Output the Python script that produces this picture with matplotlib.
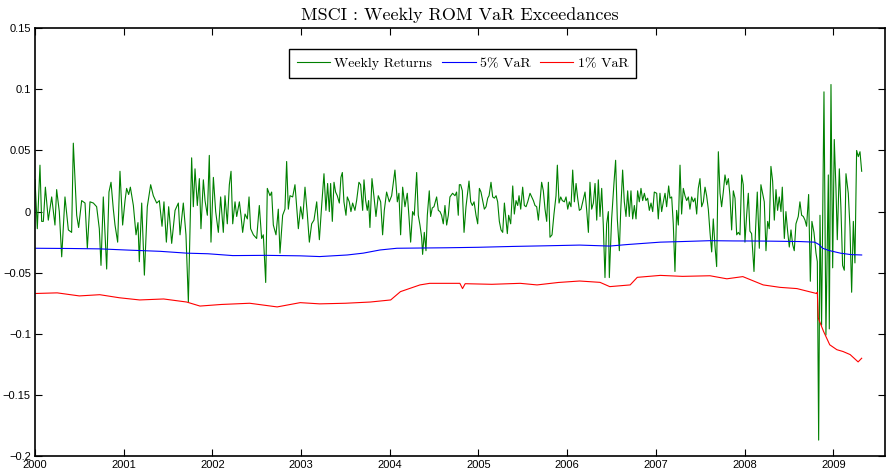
import numpy as np
import matplotlib
matplotlib.use("Agg")
import matplotlib.pyplot as plt

# weekly returns, traced as (decimal year, return)
ret_year = [
    2000.000, 2000.026, 2000.056, 2000.075, 2000.094, 2000.117, 2000.150, 2000.188, 2000.225, 2000.244,
    2000.274, 2000.301, 2000.338, 2000.376, 2000.413, 2000.432, 2000.470, 2000.492, 2000.526, 2000.564,
    2000.590, 2000.620, 2000.658, 2000.695, 2000.725, 2000.744, 2000.770, 2000.808, 2000.834, 2000.857,
    2000.883, 2000.902, 2000.932, 2000.958, 2000.988, 2001.015, 2001.033, 2001.056, 2001.075, 2001.109,
    2001.139, 2001.161, 2001.176, 2001.203, 2001.233, 2001.266, 2001.304, 2001.334, 2001.372, 2001.402,
    2001.432, 2001.454, 2001.481, 2001.507, 2001.541, 2001.579, 2001.616, 2001.635,
    2001.672, 2001.702, 2001.729, 2001.766, 2001.785, 2001.804, 2001.830, 2001.853, 2001.871, 2001.898,
    2001.917, 2001.943, 2001.965, 2001.984, 2002.011, 2002.037, 2002.067, 2002.093, 2002.123, 2002.142,
    2002.168, 2002.191, 2002.210, 2002.229, 2002.255, 2002.274, 2002.304, 2002.322, 2002.341, 2002.368,
    2002.394, 2002.413, 2002.431, 2002.462, 2002.499, 2002.529, 2002.555, 2002.574, 2002.601, 2002.619,
    2002.649, 2002.668, 2002.687, 2002.717, 2002.743, 2002.762, 2002.792, 2002.818, 2002.837, 2002.856,
    2002.875, 2002.905, 2002.931, 2002.969, 2002.995, 2003.018, 2003.044, 2003.070, 2003.093, 2003.119,
    2003.145, 2003.176, 2003.206,
    2003.232, 2003.258, 2003.280, 2003.299, 2003.318, 2003.333, 2003.352, 2003.371, 2003.389, 2003.408,
    2003.431, 2003.449, 2003.465, 2003.483, 2003.506, 2003.521, 2003.543, 2003.562, 2003.581, 2003.607,
    2003.626, 2003.652, 2003.671, 2003.694, 2003.709, 2003.728, 2003.746, 2003.761, 2003.776, 2003.799,
    2003.822, 2003.844, 2003.870, 2003.897, 2003.919, 2003.938, 2003.964, 2003.994, 2004.021, 2004.058,
    2004.085, 2004.103, 2004.122, 2004.145, 2004.171, 2004.197, 2004.216, 2004.235, 2004.257, 2004.276,
    2004.303, 2004.321, 2004.340, 2004.359, 2004.370, 2004.389, 2004.408, 2004.423, 2004.445, 2004.460,
    2004.479, 2004.498, 2004.528, 2004.547, 2004.566, 2004.584, 2004.603, 2004.622, 2004.641, 2004.660,
    2004.678, 2004.708, 2004.735, 2004.753, 2004.772, 2004.784,
    2004.799, 2004.818, 2004.837, 2004.859, 2004.874, 2004.893, 2004.912, 2004.931, 2004.950, 2004.972,
    2004.991, 2005.010, 2005.028, 2005.047, 2005.066, 2005.085, 2005.104, 2005.119, 2005.141, 2005.160,
    2005.179, 2005.198, 2005.216, 2005.235, 2005.254, 2005.273, 2005.292, 2005.310, 2005.325, 2005.340,
    2005.363, 2005.386, 2005.404, 2005.423, 2005.442, 2005.457, 2005.476, 2005.498, 2005.517, 2005.536,
    2005.555, 2005.581, 2005.600, 2005.619, 2005.637, 2005.656, 2005.675, 2005.694, 2005.712, 2005.731,
    2005.750, 2005.769, 2005.788, 2005.806, 2005.829, 2005.851, 2005.874, 2005.889, 2005.908, 2005.927,
    2005.945, 2005.968, 2005.987, 2006.006, 2006.024, 2006.043, 2006.062, 2006.081, 2006.100, 2006.118,
    2006.137, 2006.156, 2006.175, 2006.201, 2006.220, 2006.239, 2006.257, 2006.276, 2006.295, 2006.314,
    2006.333, 2006.351, 2006.370,
    2006.389, 2006.407, 2006.426, 2006.445, 2006.464, 2006.475, 2006.501, 2006.528, 2006.546, 2006.565,
    2006.588, 2006.603, 2006.625, 2006.644, 2006.663, 2006.682, 2006.700, 2006.719, 2006.738, 2006.757,
    2006.776, 2006.794, 2006.813, 2006.832, 2006.851, 2006.870, 2006.888, 2006.907, 2006.926, 2006.945,
    2006.964, 2006.982, 2007.009, 2007.027, 2007.046, 2007.065, 2007.084, 2007.103, 2007.121, 2007.144,
    2007.159, 2007.178, 2007.196, 2007.215, 2007.234, 2007.253, 2007.272, 2007.290, 2007.309, 2007.328,
    2007.347, 2007.366, 2007.384, 2007.403, 2007.422, 2007.441, 2007.460, 2007.478, 2007.497, 2007.516,
    2007.535, 2007.554, 2007.572, 2007.591, 2007.610, 2007.629, 2007.647, 2007.666, 2007.685, 2007.704,
    2007.723, 2007.741, 2007.760, 2007.779, 2007.798, 2007.817, 2007.835, 2007.854, 2007.873, 2007.892,
    2007.911, 2007.929,
    2007.948, 2007.967, 2007.985, 2008.004, 2008.023, 2008.042, 2008.060, 2008.079, 2008.106, 2008.124,
    2008.143, 2008.166, 2008.184, 2008.203, 2008.222, 2008.241, 2008.260, 2008.278, 2008.297, 2008.316,
    2008.335, 2008.354, 2008.372, 2008.391, 2008.410, 2008.425, 2008.448, 2008.466, 2008.485, 2008.504,
    2008.523, 2008.542, 2008.560, 2008.579, 2008.605, 2008.624, 2008.643, 2008.662, 2008.681, 2008.699,
    2008.722, 2008.741, 2008.759, 2008.782, 2008.805, 2008.820, 2008.835, 2008.850, 2008.868, 2008.895,
    2008.917, 2008.944, 2008.955, 2008.974, 2008.993, 2009.011, 2009.030, 2009.045, 2009.068, 2009.086,
    2009.105, 2009.124, 2009.143, 2009.169, 2009.188, 2009.207, 2009.226, 2009.244, 2009.263, 2009.282,
    2009.301, 2009.320,
]
ret_value = [
    0.026, -0.014, 0.038, -0.008, -0.008, 0.020, -0.007, 0.012, -0.011, 0.018,
    0.000, -0.037, 0.012, -0.015, -0.017, 0.056, -0.003, -0.013, 0.009, 0.007,
    -0.030, 0.008, 0.007, 0.004, -0.014, -0.044, 0.012, -0.047, 0.016, 0.024,
    0.002, -0.011, -0.025, 0.033, -0.011, 0.009, 0.019, 0.014, 0.020, 0.005,
    -0.019, -0.009, -0.041, 0.007, -0.052, 0.004, 0.022, 0.013, 0.007, 0.009,
    -0.012, 0.008, -0.025, 0.004, -0.026, 0.001, 0.007, -0.019,
    0.007, -0.019, -0.074, 0.044, 0.004, 0.035, 0.005, 0.027, -0.014, 0.026,
    0.009, -0.003, 0.046, -0.025, 0.028, 0.000, -0.017, 0.012, -0.017, 0.013,
    -0.010, 0.022, 0.033, -0.010, 0.008, -0.004, 0.008, -0.003, -0.017, -0.002,
    -0.006, 0.012, -0.014, -0.019, -0.022, 0.005, -0.022, -0.019, -0.058, 0.019,
    0.013, 0.016, -0.011, -0.019, 0.002, -0.034, -0.003, 0.002, 0.041, 0.002,
    0.013, 0.012, 0.022, -0.014, 0.004, -0.006, 0.020, -0.002, -0.025, -0.010,
    -0.007, 0.008, -0.023,
    0.005, 0.031, 0.001, 0.023, 0.000, 0.023, -0.008, 0.024, 0.016, 0.013,
    0.007, 0.028, 0.032, 0.008, -0.003, 0.012, 0.008, 0.000, 0.007, 0.001,
    0.009, 0.024, 0.022, 0.001, 0.026, 0.009, 0.001, 0.009, -0.013, 0.027,
    0.012, -0.004, 0.013, 0.008, -0.019, 0.001, 0.016, 0.008, 0.013, 0.034,
    0.008, 0.015, -0.019, 0.020, 0.004, 0.015, -0.004, -0.025, 0.000, -0.003,
    0.032, -0.003, -0.011, -0.021, -0.035, -0.017, -0.032, -0.003, 0.017, -0.004,
    0.003, 0.004, 0.012, 0.001, 0.000, -0.003, -0.010, 0.005, -0.011, -0.003,
    0.012, 0.015, 0.013, 0.016, -0.003, 0.022,
    0.022, 0.017, -0.017, 0.004, 0.013, 0.025, 0.008, 0.005, 0.008, -0.003,
    -0.010, 0.019, 0.016, 0.009, 0.002, 0.004, 0.011, 0.013, 0.024, 0.012,
    0.011, 0.013, 0.008, -0.008, -0.015, -0.017, 0.007, -0.007, -0.018, -0.003,
    -0.010, 0.021, -0.002, 0.009, 0.005, 0.013, 0.002, 0.020, 0.005, 0.004,
    0.008, 0.015, 0.012, 0.009, 0.005, 0.004, -0.007, 0.009, 0.024, 0.017,
    0.002, -0.008, 0.024, -0.021, -0.019, -0.002, 0.013, 0.038, 0.007, 0.012,
    0.009, 0.008, 0.012, 0.002, 0.008, 0.004, 0.034, 0.008, 0.023, 0.011,
    0.001, 0.002, 0.008, 0.016, 0.001, -0.017, 0.024, 0.002, 0.007, 0.023,
    -0.007, 0.026, -0.004,
    0.019, -0.011, -0.054, -0.010, 0.000, -0.054, -0.006, 0.024, 0.042, -0.006,
    -0.032, 0.000, 0.034, 0.008, -0.004, 0.017, -0.004, 0.017, -0.006, 0.005,
    -0.006, 0.017, 0.008, 0.019, 0.009, 0.015, 0.009, 0.011, 0.001, 0.007,
    0.000, 0.016, 0.015, -0.006, 0.015, 0.000, 0.008, 0.015, 0.004, 0.021,
    0.011, 0.012, -0.010, -0.049, 0.001, -0.011, 0.038, -0.002, 0.019, 0.013,
    0.009, 0.012, 0.002, 0.012, 0.008, 0.011, -0.002, 0.019, 0.027, 0.004,
    0.008, 0.020, 0.013, 0.002, -0.017, -0.033, -0.006, -0.028, -0.045, 0.049,
    0.015, 0.004, 0.016, 0.030, 0.022, 0.027, 0.013, -0.015, 0.017, 0.011,
    -0.019, -0.017,
    -0.019, 0.030, 0.022, -0.025, -0.003, 0.015, -0.016, -0.018, -0.049, -0.014,
    0.016, -0.030, 0.022, 0.015, 0.008, -0.032, -0.008, -0.014, 0.037, 0.025,
    -0.007, 0.018, 0.001, 0.012, 0.000, 0.020, -0.022, 0.000, -0.016, -0.029,
    -0.015, -0.027, -0.032, -0.010, -0.004, 0.008, -0.003, -0.004, -0.007, -0.012,
    0.014, -0.057, -0.008, -0.017, -0.034, -0.041, -0.187, -0.003, -0.093, 0.098,
    -0.101, 0.030, -0.096, 0.104, -0.046, 0.059, 0.019, -0.023, 0.035, 0.003,
    -0.044, -0.048, 0.031, 0.015, -0.013, -0.066, -0.008, -0.042, 0.050, 0.045,
    0.049, 0.033,
]

# 5% VaR
var5_year = [2000.01, 2000.40, 2000.73, 2001.05, 2001.41, 2001.71, 2001.95, 2002.23, 2002.60, 2002.99,
             2003.21, 2003.52, 2003.70, 2003.89, 2004.08, 2004.35, 2004.64, 2005.00, 2005.39, 2005.75,
             2006.14, 2006.48, 2006.67, 2007.05, 2007.30, 2007.61, 2007.87, 2008.20, 2008.62, 2008.79,
             2008.84, 2008.88, 2008.95, 2009.08, 2009.20, 2009.32]
var5_value = [-0.0300, -0.0302, -0.0305, -0.0315, -0.0325, -0.0340, -0.0345, -0.0360, -0.0358, -0.0362,
              -0.0368, -0.0355, -0.0340, -0.0314, -0.0300, -0.0298, -0.0296, -0.0292, -0.0285, -0.0280,
              -0.0274, -0.0282, -0.0270, -0.0250, -0.0245, -0.0238, -0.0240, -0.0241, -0.0245, -0.0250,
              -0.0270, -0.0300, -0.0318, -0.0340, -0.0352, -0.0355]

# 1% VaR
var1_year = [2000.01, 2000.25, 2000.50, 2000.73, 2000.95, 2001.18, 2001.45, 2001.71, 2001.86, 2002.10,
             2002.42, 2002.73, 2002.99, 2003.21, 2003.50, 2003.78, 2004.01, 2004.12, 2004.34, 2004.45,
             2004.79, 2004.82, 2004.85, 2005.15, 2005.47, 2005.66, 2005.90, 2006.14, 2006.37, 2006.48,
             2006.71, 2006.79, 2007.05, 2007.30, 2007.61, 2007.80, 2007.98, 2008.21, 2008.40, 2008.59,
             2008.81, 2008.82, 2008.83, 2008.89, 2008.96, 2009.04, 2009.11, 2009.19, 2009.28, 2009.32]
var1_value = [-0.0670, -0.0665, -0.0690, -0.0680, -0.0705, -0.0723, -0.0715, -0.0740, -0.0773, -0.0760,
              -0.0750, -0.0780, -0.0745, -0.0755, -0.0750, -0.0740, -0.0723, -0.0655, -0.0600, -0.0587,
              -0.0587, -0.0630, -0.0590, -0.0595, -0.0587, -0.0600, -0.0580, -0.0568, -0.0579, -0.0614,
              -0.0600, -0.0538, -0.0522, -0.0530, -0.0525, -0.0550, -0.0532, -0.0600, -0.0620, -0.0630,
              -0.0670, -0.0660, -0.0870, -0.0980, -0.1090, -0.1130, -0.1145, -0.1170, -0.1230, -0.1200]

year_ticks = list(range(2000, 2010))
y_ticks = [-0.2, -0.15, -0.1, -0.05, 0, 0.05, 0.1, 0.15]
y_labels = ["\u22120.2", "\u22120.15", "\u22120.1", "\u22120.05", "0", "0.05", "0.1", "0.15"]

serif = ["cmr10", "DejaVu Serif"]
sans = ["Liberation Sans", "DejaVu Sans"]

fig = plt.figure(figsize=(8.87, 4.70), dpi=100)
ax = fig.add_axes([35 / 887, 14 / 470, 850 / 887, 427.7 / 470])

ax.plot(ret_year, ret_value, color=(0, 0.5, 0), lw=0.8, label="Weekly Returns")
ax.plot(var5_year, var5_value, color="b", lw=0.8, label="5% VaR")
ax.plot(var1_year, var1_value, color="r", lw=0.8, label="1% VaR")

ax.set_xlim(2000, 2009.583)
ax.set_ylim(-0.2, 0.15)
ax.set_xticks(year_ticks)
ax.set_xticklabels([str(y) for y in year_ticks], family=sans, fontsize=8)
ax.set_yticks(y_ticks)
ax.set_yticklabels(y_labels, family=sans, fontsize=8)
ax.tick_params(direction="in", top=True, right=True, length=5, width=0.8, pad=3)
for s in ax.spines.values():
    s.set_linewidth(1.2)

ax.set_title("MSCI : Weekly ROM VaR Exceedances", family=serif, fontsize=13, pad=6)

leg = ax.legend(loc="upper center", bbox_to_anchor=(0.503, 0.952), ncol=3,
                prop={"family": serif, "size": 10}, fancybox=False, framealpha=1,
                edgecolor="black", handlelength=2.4, handletextpad=0.3,
                columnspacing=0.7, borderpad=0.6, borderaxespad=0)
leg.get_frame().set_linewidth(1.0)

fig.savefig("out.png", dpi=100)
